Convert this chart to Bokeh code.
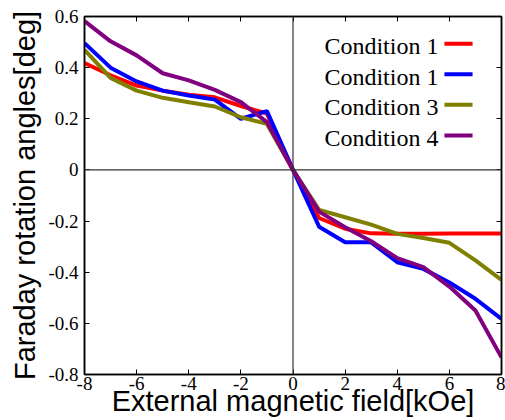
from bokeh.plotting import figure
from bokeh.models import Range1d, FixedTicker, LinearAxis, Span, Label
from bokeh.embed import file_html
from bokeh.resources import INLINE

# ---- data ----
field = [-8, -7, -6, -5, -4, -3, -2, -1, 0, 1, 2, 3, 4, 5, 6, 7, 8]
cond1a = [0.418, 0.37, 0.33, 0.31, 0.294, 0.284, 0.25, 0.22, 0.0,
          -0.188, -0.23, -0.248, -0.25, -0.25, -0.249, -0.249, -0.249]
cond1b = [0.496, 0.40, 0.346, 0.31, 0.291, 0.275, 0.20, 0.23, 0.0,
          -0.222, -0.283, -0.283, -0.361, -0.387, -0.44, -0.504, -0.583]
cond3 = [0.47, 0.36, 0.31, 0.282, 0.265, 0.248, 0.206, 0.18, 0.0,
         -0.156, -0.185, -0.214, -0.25, -0.266, -0.285, -0.354, -0.43]
cond4 = [0.582, 0.503, 0.448, 0.378, 0.35, 0.313, 0.265, 0.187, 0.0,
         -0.163, -0.224, -0.279, -0.345, -0.38, -0.456, -0.55, -0.733]

series_names = ["Condition 1", "Condition 1", "Condition 3", "Condition 4"]
series_values = [cond1a, cond1b, cond3, cond4]
series_colors = ["#ff0000", "#0000ff", "#808000", "#800080"]

x_ticks = [-8, -6, -4, -2, 0, 2, 4, 6, 8]
x_tick_labels = ["-8", "-6", "-4", "-2", "0", "2", "4", "6", "8"]
y_ticks = [-0.8, -0.6, -0.4, -0.2, 0.0, 0.2, 0.4, 0.6]
y_tick_labels = ["-0.8", "-0.6", "-0.4", "-0.2", "0", "0.2", "0.4", "0.6"]

x_title = "External magnetic field[kOe]"
y_title = "Faraday rotation angles[deg]"

serif_font = "Times New Roman"

# ---- figure ----
p = figure(width=505, height=420, output_backend="svg", toolbar_location=None,
           x_range=Range1d(-8, 8), y_range=Range1d(-0.8, 0.6),
           x_axis_label=x_title, y_axis_label=y_title,
           min_border_left=84, min_border_right=4, min_border_top=16,
           min_border_bottom=46)
p.xgrid.visible = False
p.ygrid.visible = False
p.outline_line_color = "black"
p.outline_line_width = 1.5
p.background_fill_color = "white"
p.border_fill_color = "white"

p.xaxis.ticker = FixedTicker(ticks=x_ticks)
p.yaxis.ticker = FixedTicker(ticks=y_ticks)
p.xaxis.major_label_overrides = {t: l for t, l in zip(x_ticks, x_tick_labels)}
p.yaxis.major_label_overrides = {t: l for t, l in zip(y_ticks, y_tick_labels)}

p.axis.major_tick_in = 5
p.axis.major_tick_out = 0
p.axis.minor_tick_in = 0
p.axis.minor_tick_out = 0
p.axis.axis_line_width = 1.5
p.axis.axis_line_color = "black"
p.axis.major_tick_line_color = "black"
p.axis.major_label_text_font = serif_font
p.axis.major_label_text_font_size = "19px"
p.axis.major_label_text_font_style = "normal"
p.axis.major_label_text_color = "black"
p.axis.axis_label_text_font = "Liberation Sans"
p.axis.axis_label_text_font_size = "29px"
p.axis.axis_label_text_font_style = "normal"
p.axis.axis_label_text_color = "black"

p.xaxis.major_label_standoff = 2
p.xaxis.axis_label_standoff = -8
p.yaxis.major_label_standoff = 6
p.yaxis.axis_label_standoff = 4

# mirrored tick marks on top and right
for side, ticks in [("above", x_ticks), ("right", y_ticks)]:
    ax = LinearAxis(ticker=FixedTicker(ticks=ticks),
                    major_label_overrides={t: "" for t in ticks},
                    major_tick_in=5, major_tick_out=0,
                    minor_tick_in=0, minor_tick_out=0,
                    major_label_standoff=0,
                    major_label_text_font_size="0px",
                    axis_line_width=1.5)
    p.add_layout(ax, side)

# zero lines
p.add_layout(Span(location=0, dimension="width", line_color="#333333", line_width=1.2))
p.add_layout(Span(location=0, dimension="height", line_color="#333333", line_width=1.2))

for vals, col in zip(series_values, series_colors):
    p.line(field, vals, line_color=col, line_width=4)

# legend (text left of line, as in the reference)
leg_text_x = 5.58
leg_line_x0, leg_line_x1 = 5.81, 6.89
leg_y0, leg_dy, leg_text_dy = 0.493, 0.1193, 0.01
for i, (name, col) in enumerate(zip(series_names, series_colors)):
    yy = leg_y0 - i * leg_dy
    p.add_layout(Label(x=leg_text_x, y=yy - leg_text_dy, text=name,
                       text_align="right", text_baseline="alphabetic",
                       text_font=serif_font, text_font_size="24px",
                       text_color="black"))
    p.segment(x0=[leg_line_x0], y0=[yy], x1=[leg_line_x1], y1=[yy],
              line_color=col, line_width=4)

open("out.html", "w").write(file_html(p, INLINE))
